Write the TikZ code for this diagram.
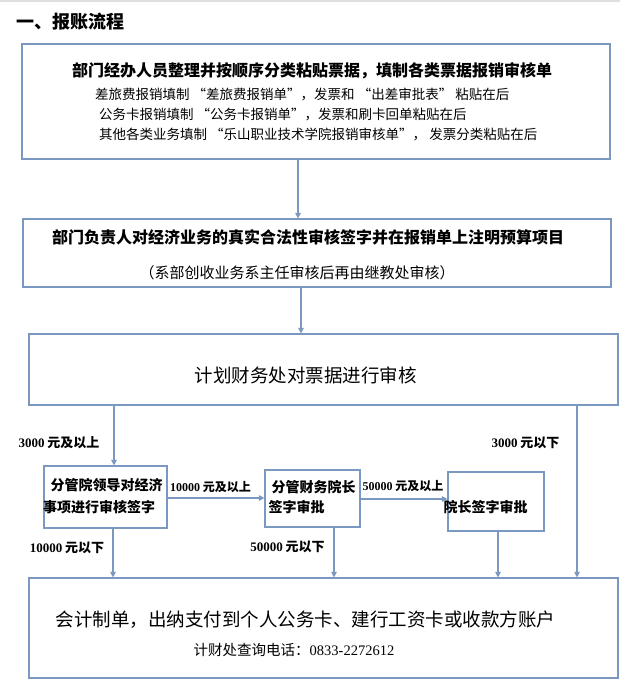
\documentclass[tikz,border=0pt]{standalone}
\usepackage{fontspec}
\setmainfont{Noto Sans CJK SC}
\newfontfamily\tms{Liberation Serif}
\usetikzlibrary{arrows.meta}
\definecolor{frame}{RGB}{122,152,192}
\begin{document}
\begin{tikzpicture}[
    x=1pt,y=-1pt,
    box/.style={draw=frame, line width=1.1pt, inner sep=0pt},
    arr/.style={frame, line width=1.1pt, -{Triangle[width=5.5pt,length=5.5pt]}},
    hd/.style={font=\bfseries\fontsize{16pt}{18pt}\selectfont, inner sep=0pt},
    sub/.style={font=\fontsize{13.5pt}{16pt}\selectfont, inner sep=0pt},
    big/.style={font=\fontsize{18.5pt}{22pt}\selectfont, inner sep=0pt},
    small/.style={font=\bfseries\fontsize{14pt}{16pt}\selectfont, inner sep=0pt},
    lab/.style={font=\bfseries\fontsize{13pt}{15pt}\selectfont, inner sep=0pt}
    ]
    \useasboundingbox (0,0) rectangle (620,685);
    \fill[gray!25] (0,0) rectangle (620,2);
    \node[anchor=west, font=\bfseries\fontsize{18pt}{22pt}\selectfont, inner sep=0pt] (title) at (16,22) {一、报账流程};
    % main boxes
    \node[box, minimum width=588pt, minimum height=115pt] (fill) at (316,101.5) {};
    \node[box, minimum width=588pt, minimum height=68pt] (dept) at (317,253) {};
    \node[box, minimum width=589pt, minimum height=71pt] (audit) at (323.5,369.5) {};
    \node[box, minimum width=589pt, minimum height=100pt] (pay) at (323.5,628) {};
    % approval boxes
    \node[box, minimum width=123pt, minimum height=62pt] (lead) at (105.5,497) {};
    \node[box, minimum width=95pt, minimum height=57pt] (fin) at (312.5,498.5) {};
    \node[box, minimum width=96pt, minimum height=59pt] (pres) at (496,501.5) {};
    % texts
    \node[hd] (fill1) at (312,71) {部门经办人员整理并按顺序分类粘贴票据，填制各类票据报销审核单};
    \node[sub, anchor=west] (fill2) at (95,95) {差旅费报销填制 “差旅费报销单”，发票和 “出差审批表” 粘贴在后};
    \node[sub, anchor=west] (fill3) at (99,115) {公务卡报销填制 “公务卡报销单”，发票和刷卡回单粘贴在后};
    \node[sub, anchor=west] (fill4) at (99,134) {其他各类业务填制 “乐山职业技术学院报销审核单”， 发票分类粘贴在后};
    \node[hd] (dept1) at (308,237) {部门负责人对经济业务的真实合法性审核签字并在报销单上注明预算项目};
    \node[sub, font=\fontsize{15pt}{18pt}\selectfont] (dept2) at (297,273) {（系部创收业务系主任审核后再由继教处审核）};
    \node[big] (audit1) at (305.5,375) {计划财务处对票据进行审核};
    \node[big] (pay1) at (305.5,620) {会计制单，出纳支付到个人公务卡、建行工资卡或收款方账户};
    \node[sub, font=\fontsize{14.5pt}{17pt}\selectfont] (pay2) at (294,650) {计财处查询电话：{\tms 0833-2272612}};
    \node[small] (lead1) at (106.5,485) {分管院领导对经济};
    \node[small] (lead2) at (99,507) {事项进行审核签字};
    \node[small] (fin1) at (313.5,487) {分管财务院长};
    \node[small] (fin2) at (296.5,507) {签字审批};
    \node[small] (pres1) at (485.5,507) {院长签字审批};
    % amount labels
    \node[lab] (l1) at (59,443) {{\tms 3000} 元及以上};
    \node[lab] (l2) at (525.5,443) {{\tms 3000} 元以下};
    \node[lab, font=\bfseries\fontsize{12pt}{14pt}\selectfont] (l3) at (210.5,487) {{\tms 10000} 元及以上};
    \node[lab, font=\bfseries\fontsize{12pt}{14pt}\selectfont] (l4) at (403,486) {{\tms 50000} 元及以上};
    \node[lab] (l5) at (67,548) {{\tms 10000} 元以下};
    \node[lab] (l6) at (287.5,547) {{\tms 50000} 元以下};
    % arrow columns
    \coordinate (x1) at (298,0);
    \coordinate (x2) at (301,0);
    \coordinate (x3) at (114,0);
    \coordinate (x4) at (113,0);
    \coordinate (x5) at (334,0);
    \coordinate (x6) at (498,0);
    \coordinate (x7) at (577,0);
    \draw[arr] (fill.south -| x1) -- (dept.north -| x1);
    \draw[arr] (dept.south -| x2) -- (audit.north -| x2);
    \draw[arr] (audit.south -| x3) -- (lead.north -| x3);
    \draw[arr] (lead.south -| x4) -- (pay.north -| x4);
    \draw[arr] (lead.east |- 0,498) -- (fin.west |- 0,498);
    \draw[arr] (fin.east |- 0,499) -- (pres.west |- 0,499);
    \draw[arr] (fin.south -| x5) -- (pay.north -| x5);
    \draw[arr] (pres.south -| x6) -- (pay.north -| x6);
    \draw[arr] (audit.south -| x7) -- (pay.north -| x7);
  \end{tikzpicture}
\end{document}
